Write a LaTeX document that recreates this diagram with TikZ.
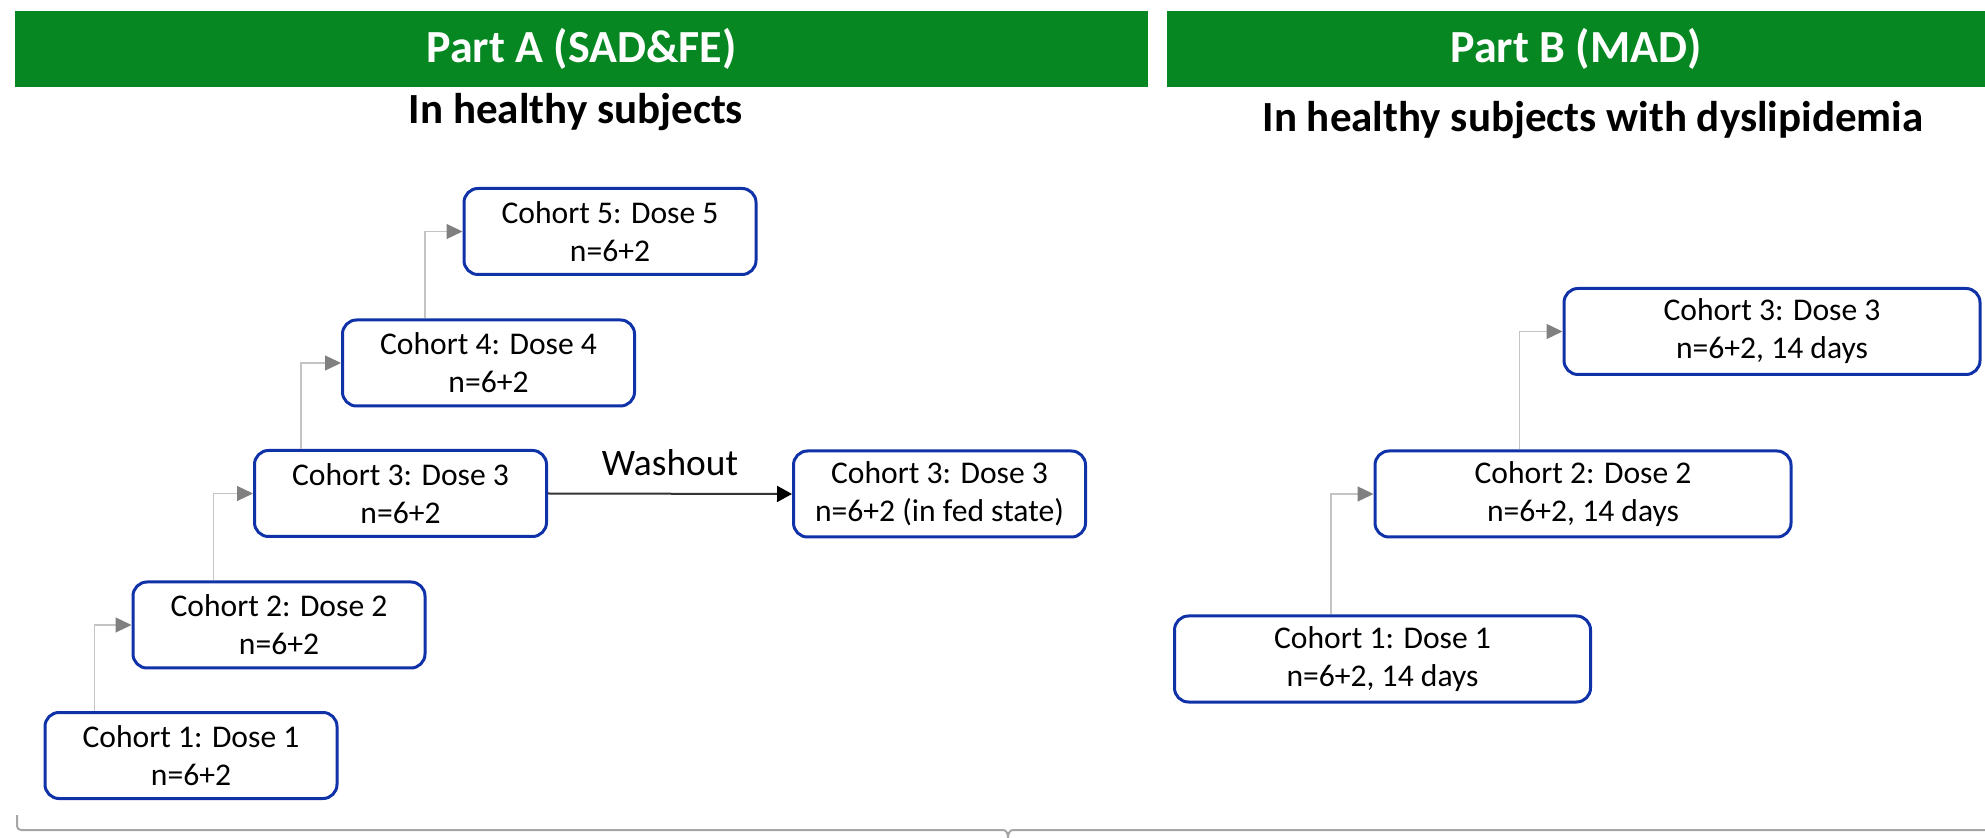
\documentclass[tikz,border=0pt]{standalone}
\usepackage{fontspec}
\setmainfont{Carlito}
\usetikzlibrary{arrows.meta}

\definecolor{cohortblue}{RGB}{16,50,168}
\definecolor{partgreen}{RGB}{7,135,34}
\definecolor{stepgray}{RGB}{196,196,196}
\definecolor{tipgray}{RGB}{128,128,128}
\definecolor{bracegray}{RGB}{166,166,166}

\begin{document}
\begin{tikzpicture}[x=0.5pt,y=-0.5pt,
    cohort/.style={draw=cohortblue,line width=1.5pt,rounded corners=7pt,
      minimum width=146pt,minimum height=43pt,align=center,inner sep=2pt,
      font=\fontsize{15.8}{19}\selectfont},
    cohortwide/.style={cohort,minimum width=208pt},
    partbar/.style={fill=partgreen,text=white,minimum height=38pt,inner sep=0pt,
      font=\fontsize{23}{27}\selectfont\bfseries},
    subtitle/.style={font=\fontsize{21.5}{25}\selectfont\bfseries},
    escalate/.style={stepgray,line width=0.6pt,
      -{Triangle[length=8pt,width=7.5pt,color=tipgray]}},
    washout/.style={black!80,line width=1pt,
      -{Triangle[length=7.5pt,width=8pt,color=black]}}]
    \useasboundingbox (0,0) rectangle (1985,838);

    % headers
    \node[partbar,minimum width=566.5pt] (partA) at (581.5,49) {Part A (SAD\&FE)};
    \node[partbar,minimum width=409pt] (partB) at (1576,49) {Part B (MAD)};
    \node[subtitle] (subA) at (576,112) {In healthy subjects};
    \node[subtitle] (subB) at (1593,120) {In healthy subjects with dyslipidemia};

    % part A: single ascending dose
    \node[cohort] (a1) at (191,755.5) {Cohort 1: Dose 1\\n=6+2};
    \node[cohort] (a2) at (279,625) {Cohort 2: Dose 2\\n=6+2};
    \node[cohort] (a3) at (400.5,493.5) {Cohort 3: Dose 3\\n=6+2};
    \node[cohort] (a4) at (488.5,363) {Cohort 4: Dose 4\\n=6+2};
    \node[cohort] (a5) at (610,231.5) {Cohort 5: Dose 5\\n=6+2};
    \node[cohort] (a3fed) at (939.5,494) {Cohort 3: Dose 3\\n=6+2 (in fed state)};

    \draw[escalate] ([xshift=25.5pt]a1.north west) |- (a2.west);
    \draw[escalate] ([xshift=41pt]a2.north west) |- (a3.west);
    \draw[escalate] ([xshift=24pt]a3.north west) |- (a4.west);
    \draw[escalate] ([xshift=42pt]a4.north west) |- (a5.west);
    \draw[washout] (a3.east) -- node[midway,above=5pt,text=black,
      font=\fontsize{18.7}{22}\selectfont] (wash) {Washout} (a3fed.west);

    % part B: multiple ascending dose
    \node[cohortwide] (b1) at (1382.5,659) {Cohort 1: Dose 1\\n=6+2, 14 days};
    \node[cohortwide] (b2) at (1583,494) {Cohort 2: Dose 2\\n=6+2, 14 days};
    \node[cohortwide] (b3) at (1772,331.5) {Cohort 3: Dose 3\\n=6+2, 14 days};

    \draw[escalate] ([xshift=79pt]b1.north west) |- (b2.west);
    \draw[escalate] ([xshift=73pt]b2.north west) |- (b3.west);

    % brace along the bottom
    \draw[bracegray,line width=1pt]
      (17,815) -- (17,826) to[out=-90,in=180] (21,830) -- (1003,830)
      to[out=0,in=90] (1008,838) to[out=90,in=180] (1013,830) -- (1985,830);
  \end{tikzpicture}
\end{document}
